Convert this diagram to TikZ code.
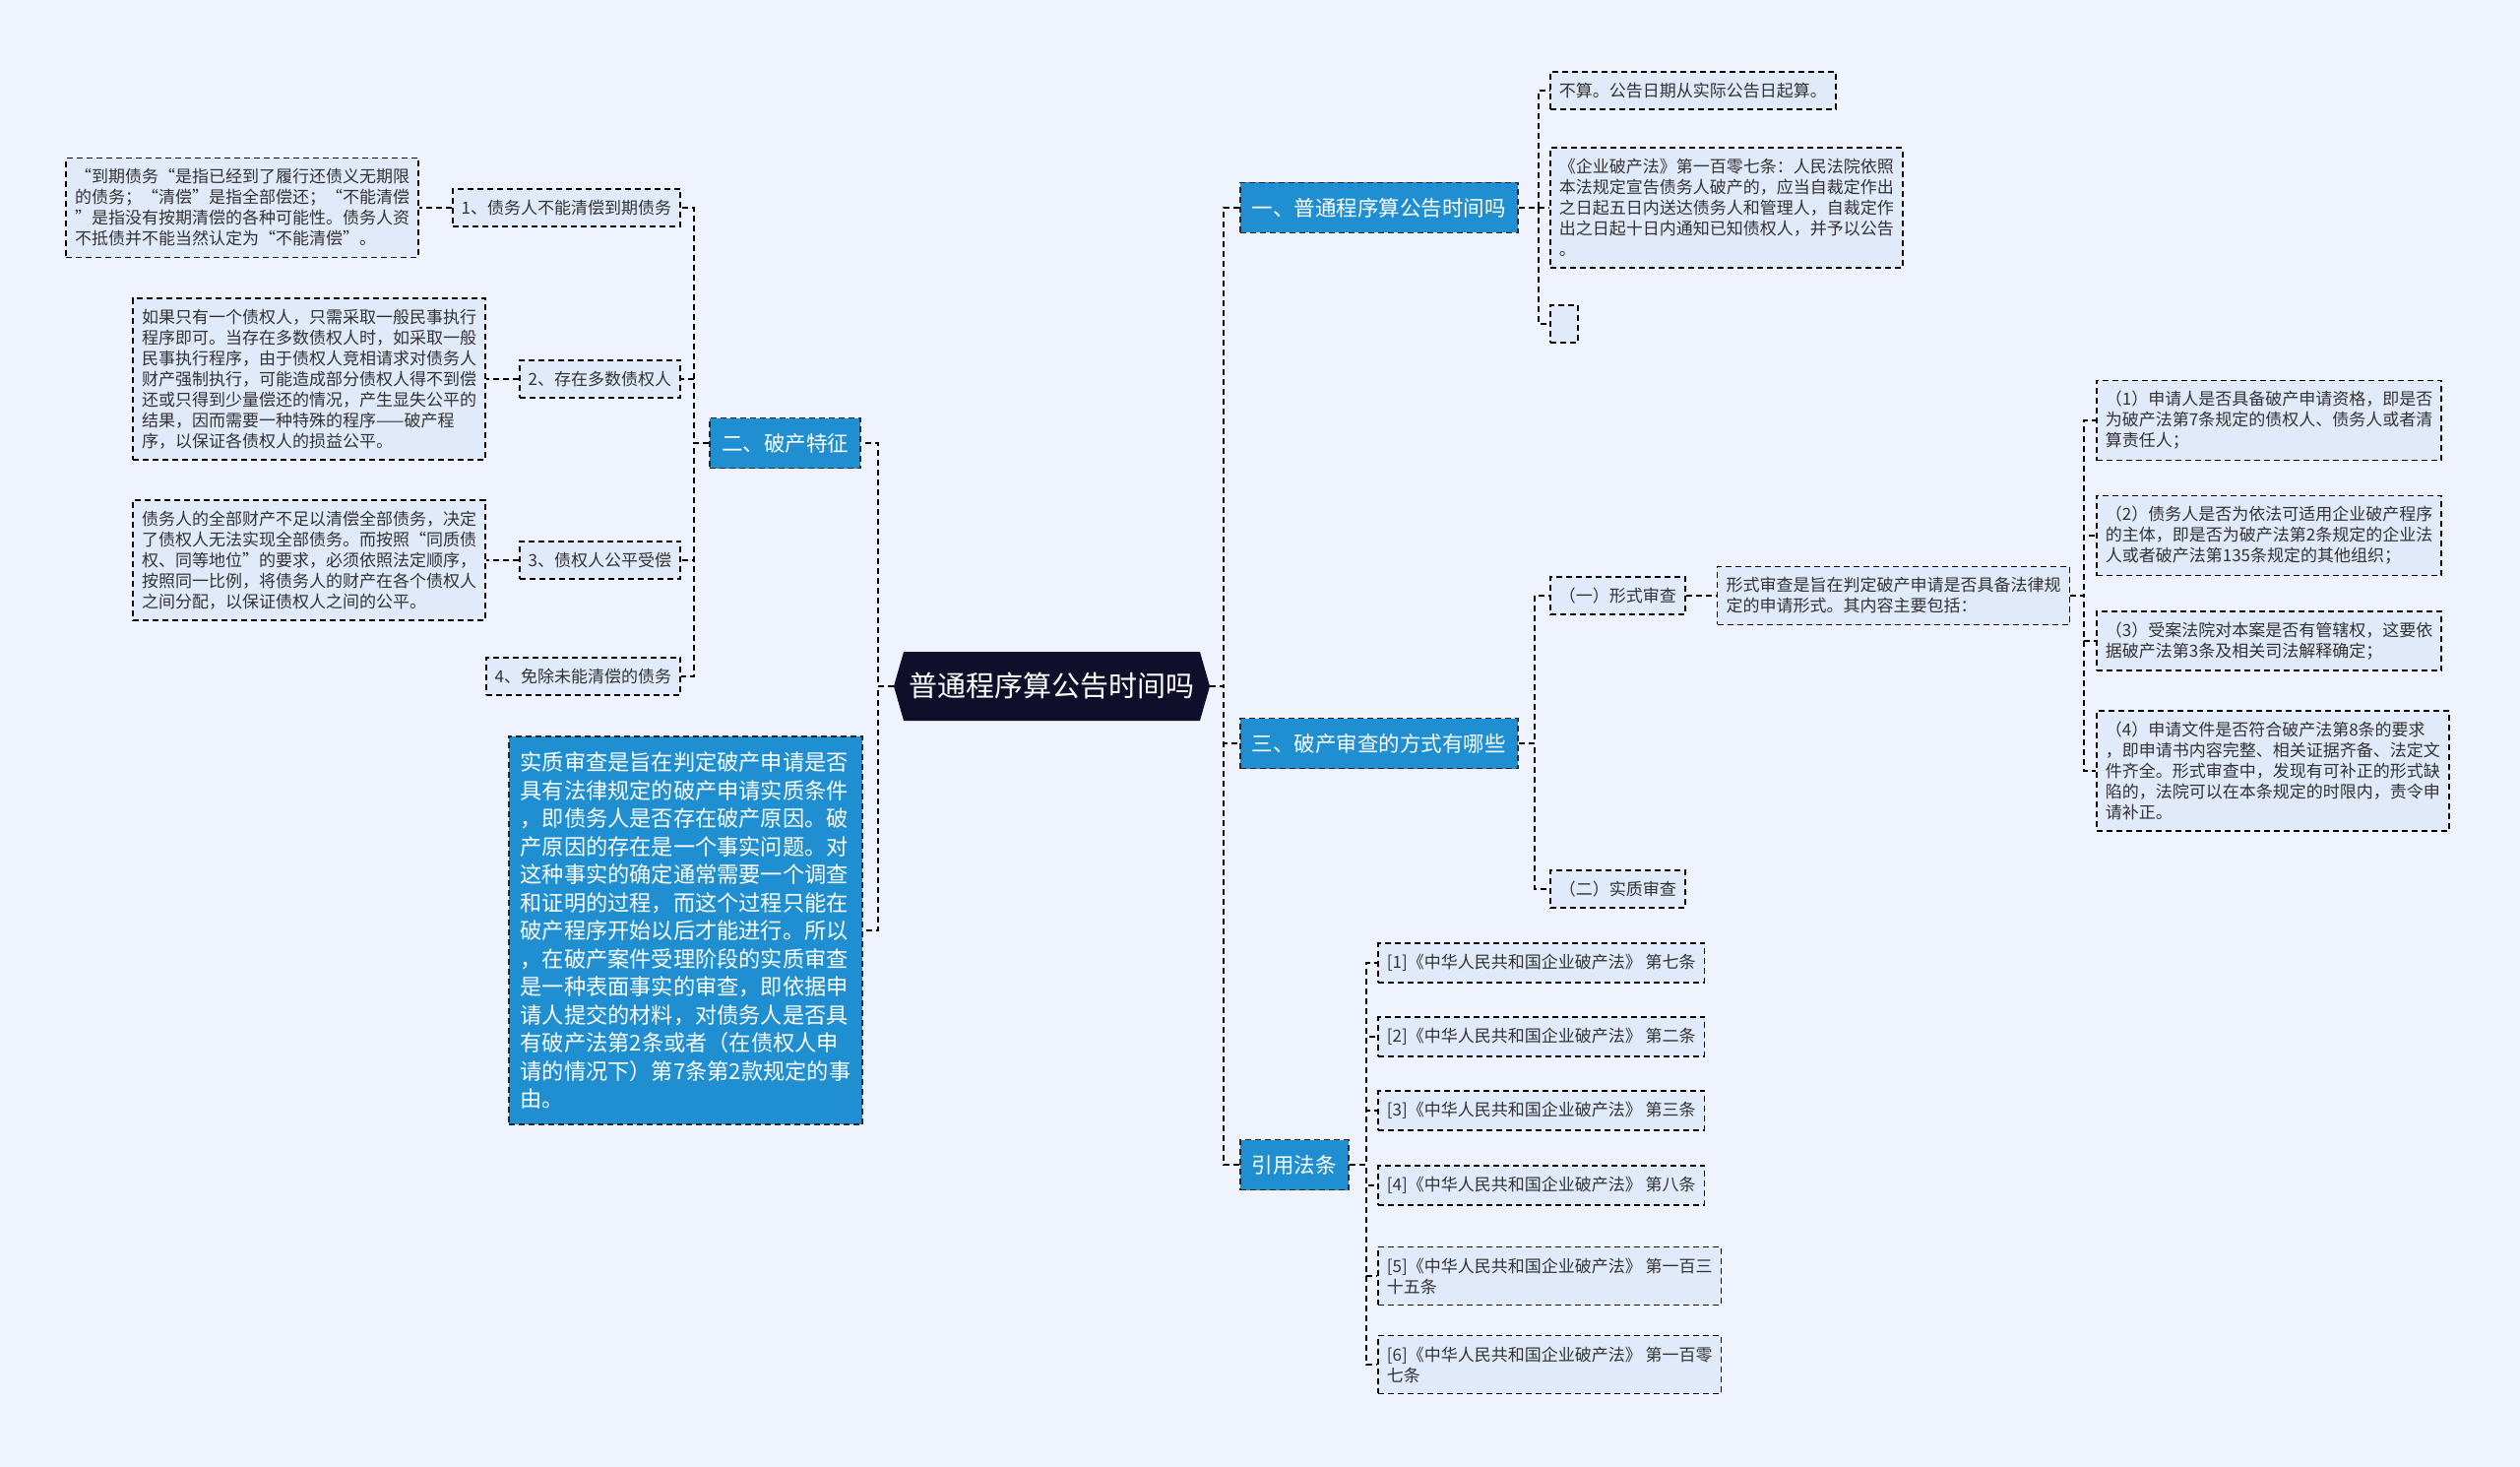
\documentclass[tikz,border=0pt]{standalone}
\usepackage{fontspec}
\setmainfont{Noto Sans CJK SC}
\usetikzlibrary{shapes.symbols, positioning}

\definecolor{bgblue}{RGB}{238,243,253}
\definecolor{leafblue}{RGB}{225,234,250}
\definecolor{branchblue}{RGB}{31,143,209}
\definecolor{rootnavy}{RGB}{15,15,44}
\definecolor{textgray}{RGB}{50,50,50}

\begin{document}
\begin{tikzpicture}[x=1pt, y=-1pt,
    leaf/.style={draw=black, dash pattern=on 6pt off 4pt, line width=1.7pt, fill=leafblue,
      text=textgray, font=\fontsize{17}{21}\selectfont, align=left,
      inner xsep=9pt, inner ysep=11pt, minimum height=38pt},
    branch/.style={draw=black!85, dash pattern=on 6pt off 4pt, line width=1.6pt, fill=branchblue,
      text=white, font=\fontsize{21.5}{29}\selectfont, inner xsep=12pt, minimum height=51pt},
    link/.style={draw=black, dash pattern=on 6pt off 4pt, line width=1.9pt}]
    \fill[bgblue] (0,0) rectangle (2560,1490);

    \node[signal, signal to=east and west, signal pointer angle=148, fill=rootnavy, text=white,
      font=\fontsize{29}{34}\selectfont, minimum width=321pt, minimum height=70pt] (root) at (1068.5,697) {普通程序算公告时间吗};

    % right side
    \node[branch, anchor=west] (r1) at (1259,211) {一、普通程序算公告时间吗};
    \node[branch, anchor=west] (r3) at (1259,755) {三、破产审查的方式有哪些};
    \node[branch, anchor=west] (r4) at (1259,1183) {引用法条};

    \node[leaf, anchor=west] (a1) at (1574,92) {不算。公告日期从实际公告日起算。};
    \node[leaf, anchor=west] (a2) at (1574,211) {《企业破产法》第一百零七条：人民法院依照\\本法规定宣告债务人破产的，应当自裁定作出\\之日起五日内送达债务人和管理人，自裁定作\\出之日起十日内通知已知债权人，并予以公告\\。};
    \node[leaf, anchor=west, minimum width=28pt, inner xsep=0pt] (a3) at (1574,329) {};

    \node[leaf, anchor=west] (b1) at (1574,605) {（一）形式审查};
    \node[leaf, right=31pt of b1] (b1x) {形式审查是旨在判定破产申请是否具备法律规\\定的申请形式。其内容主要包括：};
    \node[leaf, anchor=west] (p1) at (2129,427) {（1）申请人是否具备破产申请资格，即是否\\为破产法第7条规定的债权人、债务人或者清\\算责任人；};
    \node[leaf, anchor=west] (p2) at (2129,544) {（2）债务人是否为依法可适用企业破产程序\\的主体，即是否为破产法第2条规定的企业法\\人或者破产法第135条规定的其他组织；};
    \node[leaf, anchor=west] (p3) at (2129,651) {（3）受案法院对本案是否有管辖权，这要依\\据破产法第3条及相关司法解释确定；};
    \node[leaf, anchor=west] (p4) at (2129,783) {（4）申请文件是否符合破产法第8条的要求\\，即申请书内容完整、相关证据齐备、法定文\\件齐全。形式审查中，发现有可补正的形式缺\\陷的，法院可以在本条规定的时限内，责令申\\请补正。};
    \node[leaf, anchor=west] (b2) at (1574,903) {（二）实质审查};

    \node[leaf, anchor=west] (s1) at (1399,978) {[1]《中华人民共和国企业破产法》 第七条};
    \node[leaf, anchor=west] (s2) at (1399,1053) {[2]《中华人民共和国企业破产法》 第二条};
    \node[leaf, anchor=west] (s3) at (1399,1128) {[3]《中华人民共和国企业破产法》 第三条};
    \node[leaf, anchor=west] (s4) at (1399,1204) {[4]《中华人民共和国企业破产法》 第八条};
    \node[leaf, anchor=west] (s5) at (1399,1296) {[5]《中华人民共和国企业破产法》 第一百三\\十五条};
    \node[leaf, anchor=west] (s6) at (1399,1386) {[6]《中华人民共和国企业破产法》 第一百零\\七条};

    % left side
    \node[branch, anchor=east] (l2) at (875,450) {二、破产特征};
    \node[branch, anchor=east, align=left, font=\fontsize{22.2}{28.5}\selectfont, inner xsep=12pt, inner ysep=16pt] (lbig) at (877,945) {实质审查是旨在判定破产申请是否\\具有法律规定的破产申请实质条件\\，即债务人是否存在破产原因。破\\产原因的存在是一个事实问题。对\\这种事实的确定通常需要一个调查\\和证明的过程，而这个过程只能在\\破产程序开始以后才能进行。所以\\，在破产案件受理阶段的实质审查\\是一种表面事实的审查，即依据申\\请人提交的材料，对债务人是否具\\有破产法第2条或者（在债权人申\\请的情况下）第7条第2款规定的事\\由。};

    \node[leaf, anchor=east] (c1) at (692,211) {1、债务人不能清偿到期债务};
    \node[leaf, anchor=east] (c2) at (692,385) {2、存在多数债权人};
    \node[leaf, anchor=east] (c3) at (692,569) {3、债权人公平受偿};
    \node[leaf, anchor=east] (c4) at (692,687) {4、免除未能清偿的债务};

    \node[leaf, left=33pt of c1] (d1) {“到期债务“是指已经到了履行还债义无期限\\的债务；“清偿”是指全部偿还；“不能清偿\\”是指没有按期清偿的各种可能性。债务人资\\不抵债并不能当然认定为“不能清偿”。};
    \node[leaf, left=33pt of c2] (d2) {如果只有一个债权人，只需采取一般民事执行\\程序即可。当存在多数债权人时，如采取一般\\民事执行程序，由于债权人竞相请求对债务人\\财产强制执行，可能造成部分债权人得不到偿\\还或只得到少量偿还的情况，产生显失公平的\\结果，因而需要一种特殊的程序——破产程\\序，以保证各债权人的损益公平。};
    \node[leaf, left=33pt of c3] (d3) {债务人的全部财产不足以清偿全部债务，决定\\了债权人无法实现全部债务。而按照“同质债\\权、同等地位”的要求，必须依照法定顺序，\\按照同一比例，将债务人的财产在各个债权人\\之间分配，以保证债权人之间的公平。};

    % connectors
    \foreach \n in {r1,r3,r4}
        \draw[link] (root.east) -- ++(14,0) |- (\n.west);
    \foreach \n in {l2,lbig}
        \draw[link] (root.west) -- ++(-16,0) |- (\n.east);
    \foreach \n in {a1,a2,a3}
        \draw[link] (r1.east) -- ++(20,0) |- (\n.west);
    \foreach \n in {b1,b2}
        \draw[link] (r3.east) -- ++(16,0) |- (\n.west);
    \draw[link] (b1.east) -- (b1x.west);
    \foreach \n in {p1,p2,p3,p4}
        \draw[link] (b1x.east) -- ++(14,0) |- (\n.west);
    \foreach \n in {s1,s2,s3,s4,s5,s6}
        \draw[link] (r4.east) -- ++(17,0) |- (\n.west);
    \foreach \n in {c1,c2,c3,c4}
        \draw[link] (l2.west) -- ++(-15,0) |- (\n.east);
    \foreach \n/\m in {c1/d1,c2/d2,c3/d3}
        \draw[link] (\n.west) -- (\m.east);
\end{tikzpicture}
\end{document}
